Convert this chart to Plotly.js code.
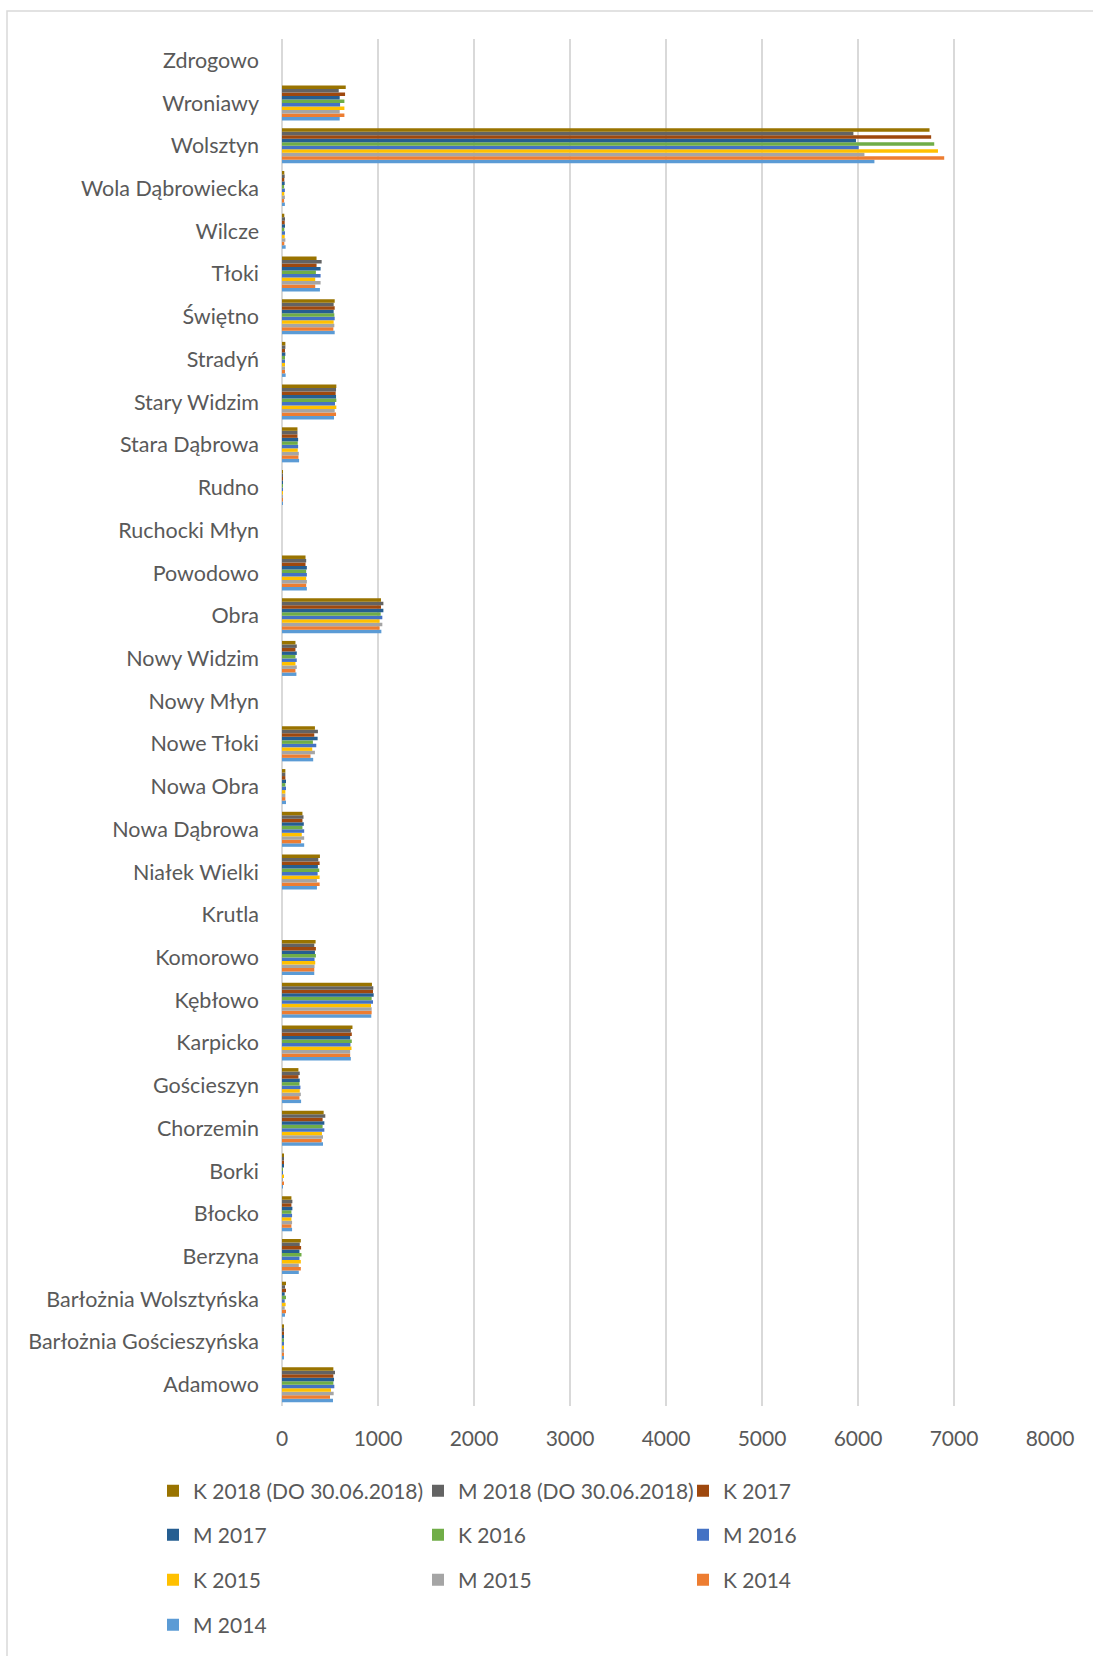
<!DOCTYPE html>
<html>
<head>
<meta charset="utf-8">
<script src="https://cdn.plot.ly/plotly-3.0.1.min.js"></script>
<style>
  html, body { margin: 0; padding: 0; background: #ffffff; }
  #chart { width: 1093px; height: 1656px; }
</style>
</head>
<body>
<div id="chart"></div>
<script>
// Categories (bottom to top, as drawn)
const categories = [
  "Adamowo", "Barłożnia Gościeszyńska", "Barłożnia Wolsztyńska", "Berzyna", "Błocko",
  "Borki", "Chorzemin", "Gościeszyn", "Karpicko", "Kębłowo", "Komorowo", "Krutla",
  "Niałek Wielki", "Nowa Dąbrowa", "Nowa Obra", "Nowe Tłoki", "Nowy Młyn", "Nowy Widzim",
  "Obra", "Powodowo", "Ruchocki Młyn", "Rudno", "Stara Dąbrowa", "Stary Widzim",
  "Stradyń", "Świętno", "Tłoki", "Wilcze", "Wola Dąbrowiecka", "Wolsztyn", "Wroniawy", "Zdrogowo"
];

// Series values (same order as categories)
const k2018 = [535, 21, 42, 196, 98, 14, 434, 171, 734, 937, 350, 0, 395, 213, 35, 343, 0, 140, 1031, 245, 0, 10, 161, 566, 35, 549, 360, 24, 24, 6745, 664, 0];
const m2018 = [552, 21, 31, 185, 108, 17, 451, 185, 717, 951, 336, 0, 378, 224, 35, 374, 0, 154, 1056, 252, 0, 8, 161, 563, 35, 538, 413, 31, 28, 5952, 591, 0];
const k2017 = [535, 21, 42, 199, 98, 21, 423, 171, 727, 948, 353, 0, 392, 213, 35, 336, 0, 140, 1031, 245, 0, 10, 161, 559, 31, 549, 360, 28, 24, 6762, 657, 0];
const m2017 = [542, 21, 28, 182, 108, 14, 441, 185, 710, 955, 343, 0, 374, 227, 42, 371, 0, 154, 1056, 259, 0, 9, 168, 563, 35, 538, 402, 31, 28, 5979, 601, 0];
const k2016 = [535, 21, 42, 203, 98, 10, 423, 182, 727, 934, 353, 0, 388, 213, 35, 322, 0, 140, 1028, 252, 0, 9, 164, 566, 31, 545, 353, 24, 22, 6794, 650, 0];
const m2016 = [545, 18, 28, 182, 105, 10, 441, 192, 713, 948, 339, 0, 371, 231, 42, 357, 0, 154, 1045, 259, 0, 8, 168, 552, 31, 549, 402, 31, 30, 6007, 605, 0];
const k2015 = [510, 21, 38, 196, 98, 14, 416, 185, 724, 927, 346, 0, 392, 206, 35, 315, 0, 140, 1017, 252, 0, 10, 164, 566, 31, 538, 346, 28, 24, 6833, 650, 0];
const m2015 = [538, 18, 28, 175, 105, 7, 427, 196, 710, 934, 339, 0, 364, 231, 35, 343, 0, 154, 1045, 259, 0, 6, 175, 549, 31, 545, 402, 35, 30, 6067, 601, 0];
const k2014 = [500, 21, 42, 196, 98, 14, 413, 182, 710, 934, 336, 0, 392, 199, 35, 297, 0, 140, 1017, 252, 0, 10, 171, 563, 31, 535, 346, 24, 22, 6898, 650, 0];
const m2014 = [531, 21, 31, 175, 105, 10, 427, 199, 717, 930, 336, 0, 364, 231, 42, 325, 0, 150, 1035, 259, 0, 9, 178, 542, 38, 549, 395, 38, 30, 6171, 601, 0];

// Series names, in legend order
const seriesNames = [
  "K 2018 (DO 30.06.2018)", "M 2018 (DO 30.06.2018)", "K 2017",
  "M 2017", "K 2016", "M 2016",
  "K 2015", "M 2015", "K 2014",
  "M 2014"
];
const seriesValues = [k2018, m2018, k2017, m2017, k2016, m2016, k2015, m2015, k2014, m2014];
const seriesColors = ["#997300", "#636363", "#9E480E", "#255E91", "#70AD47", "#4472C4", "#FFC000", "#A5A5A5", "#ED7D31", "#5B9BD5"];
const seriesLegend = ["legend", "legend", "legend", "legend2", "legend2", "legend2", "legend3", "legend3", "legend3", "legend4"];

const FONT = 'Lato, "Liberation Sans", Arial, sans-serif';
const TXT = "#595959";

// Add traces in reverse so the first series sits at the top of each group
const traces = [];
for (let i = seriesNames.length - 1; i >= 0; i--) {
  traces.push({
    type: "bar",
    orientation: "h",
    name: seriesNames[i],
    y: categories,
    x: seriesValues[i],
    marker: { color: seriesColors[i], line: { width: 0 } },
    legend: seriesLegend[i],
    hoverinfo: "x+y+name"
  });
}

const W = 1093, H = 1656;
const plotL = 282, plotR = 1050, plotT = 39, plotB = 1407;
const pw = plotR - plotL, ph = plotB - plotT;

function legendAt(yPix) {
  return {
    orientation: "h",
    traceorder: "reversed",
    xref: "paper", yref: "paper",
    x: (153 - plotL) / pw, xanchor: "left",
    y: (plotB - yPix) / ph, yanchor: "middle",
    entrywidth: 220, entrywidthmode: "pixels",
    font: { family: FONT, size: 21, color: TXT },
    bgcolor: "rgba(0,0,0,0)",
    itemclick: false, itemdoubleclick: false
  };
}

const layout = {
  width: W, height: H,
  margin: { l: plotL, r: W - plotR, t: plotT, b: H - plotB, pad: 0 },
  paper_bgcolor: "#ffffff",
  plot_bgcolor: "#ffffff",
  font: { family: FONT, size: 21, color: TXT },
  barmode: "group",
  bargap: 0.18,
  bargroupgap: 0,
  showlegend: true,
  xaxis: {
    range: [0, 8000],
    dtick: 1000,
    tick0: 0,
    showgrid: true,
    gridcolor: "#D9D9D9",
    gridwidth: 1.5,
    zeroline: true,
    zerolinecolor: "#D9D9D9",
    zerolinewidth: 1.5,
    showline: false,
    ticks: "",
    ticklabelstandoff: 18,
    tickfont: { family: FONT, size: 21, color: TXT },
    fixedrange: true
  },
  yaxis: {
    type: "category",
    categoryorder: "array",
    categoryarray: categories,
    showgrid: false,
    zeroline: false,
    showline: false,
    ticks: "",
    ticklabelstandoff: 22,
    tickfont: { family: FONT, size: 21.5, color: TXT },
    fixedrange: true
  },
  legend: legendAt(1491),
  legend2: legendAt(1535),
  legend3: legendAt(1580),
  legend4: legendAt(1625),
  shapes: [{
    type: "rect",
    xref: "paper", yref: "paper",
    x0: (7 - plotL) / pw,
    x1: (1100 - plotL) / pw,
    y0: (plotB - 1665) / ph,
    y1: (plotB - 11) / ph,
    line: { color: "#D9D9D9", width: 1.5 },
    fillcolor: "rgba(0,0,0,0)",
    layer: "below"
  }]
};

Plotly.newPlot("chart", traces, layout, { displayModeBar: false, staticPlot: false, responsive: false });
</script>
</body>
</html>
